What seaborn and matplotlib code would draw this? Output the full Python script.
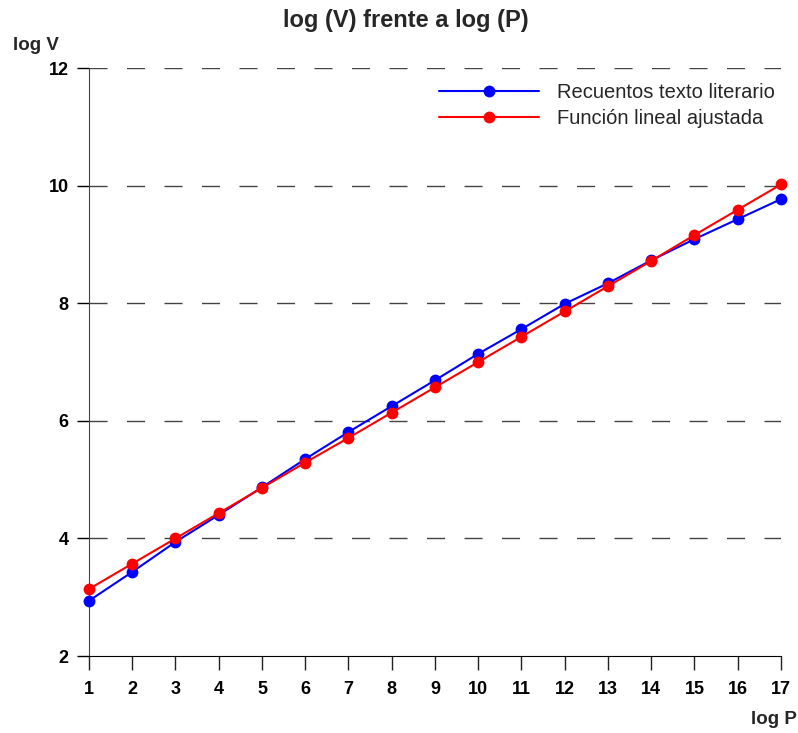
import matplotlib
matplotlib.use("Agg")
import matplotlib.pyplot as plt
import seaborn as sns
import pandas as pd

log_p = list(range(1, 18))
recuentos = [2.94, 3.43, 3.94, 4.40, 4.87, 5.35, 5.81, 6.25, 6.69, 7.14,
             7.56, 7.99, 8.34, 8.73, 9.09, 9.43, 9.77]
ajustada = [3.14, 3.57, 4.00, 4.43, 4.86, 5.29, 5.71, 6.14, 6.57, 7.00,
            7.43, 7.86, 8.29, 8.72, 9.16, 9.59, 10.02]
series_names = ["Recuentos texto literario", "Función lineal ajustada"]
colors = ["#0000ff", "#ff0000"]

df = pd.concat([
    pd.DataFrame({"log P": log_p, "log V": recuentos, "serie": series_names[0]}),
    pd.DataFrame({"log P": log_p, "log V": ajustada, "serie": series_names[1]}),
])

sns.set_style("white")
plt.rcParams["font.family"] = ["Liberation Sans", "DejaVu Sans"]

fig = plt.figure(figsize=(7.98, 7.33), dpi=100)
ax = fig.add_axes([0.1115, 0.105, 0.8672, 0.8022])

sns.lineplot(data=df, x="log P", y="log V", hue="serie", palette=colors,
             marker="o", markersize=8.5, markeredgewidth=0, linewidth=1.5,
             ax=ax, clip_on=False, zorder=3)

ax.set_xlim(1, 17)
ax.set_ylim(2, 12)
ax.set_xticks(log_p)
ax.set_yticks(range(2, 13, 2))
for y in range(4, 13, 2):
    ax.axhline(y, color="#444444", linewidth=1, dashes=(13, 14), zorder=1)

for s in ["top", "right"]:
    ax.spines[s].set_visible(False)
ax.spines["left"].set_color("#444444")
ax.spines["bottom"].set_color("black")
ax.tick_params(axis="x", direction="out", length=10, width=1, colors="#222222",
               labelsize=13, pad=8, bottom=True)
ax.tick_params(axis="y", direction="out", length=8.6, width=1, colors="black",
               labelsize=13, pad=6, left=True)
for lab in ax.get_xticklabels() + ax.get_yticklabels():
    lab.set_fontweight("bold")
    lab.set_color("black")

ax.set_xlabel("")
ax.set_ylabel("")
fig.text(0.016, 0.938, "log V", fontsize=13.5, fontweight="bold", ha="left", va="center")
fig.text(0.999, 0.018, "log P", fontsize=13.5, fontweight="bold", ha="right", va="center")
fig.text(0.509, 0.972, "log (V) frente a log (P)", fontsize=17, fontweight="bold",
         ha="center", va="center")

leg = ax.legend(loc="upper right", bbox_to_anchor=(1.018, 1.005), frameon=False,
                fontsize=14.5, handlelength=5.0, handletextpad=0.9, labelspacing=0.35)

fig.savefig("out.png", dpi=100)
